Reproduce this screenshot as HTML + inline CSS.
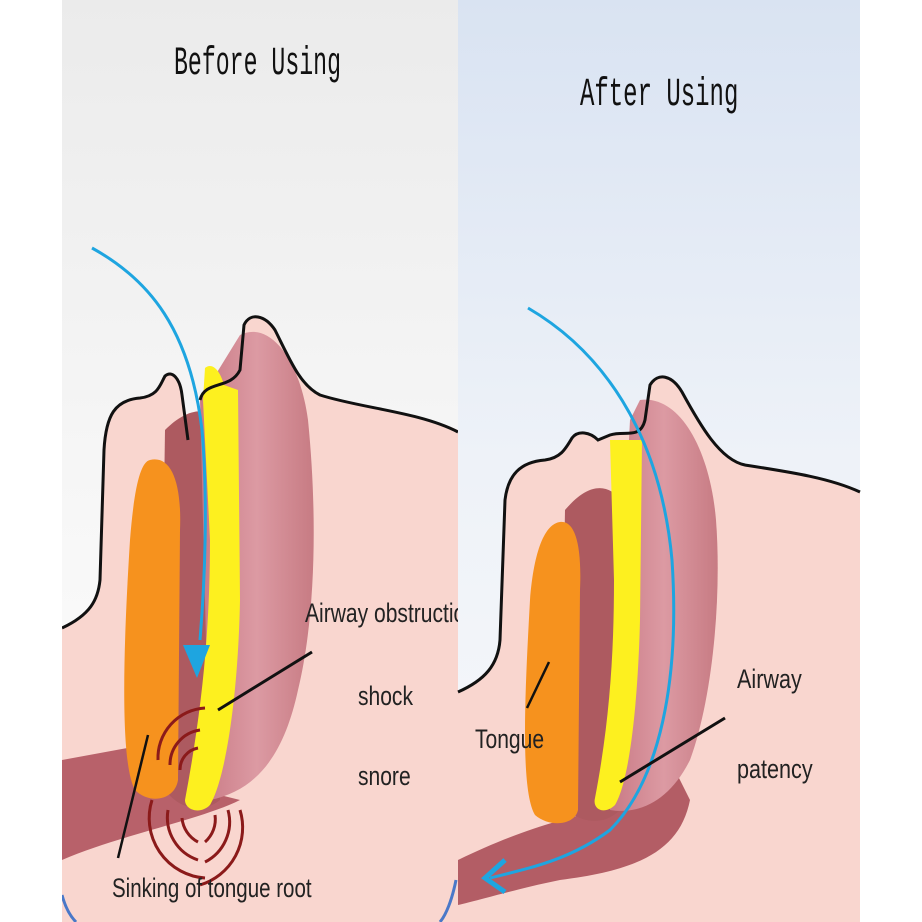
<!DOCTYPE html>
<html><head><style>
html,body{margin:0;padding:0;background:#fff;}
svg{display:block}
</style></head><body>
<svg width="922" height="922" viewBox="0 0 922 922" xmlns="http://www.w3.org/2000/svg" font-family="Liberation Sans,sans-serif">
<defs>
<linearGradient id="bgL" x1="0" y1="0" x2="0" y2="1"><stop offset="0" stop-color="#ebebeb"/><stop offset="0.5" stop-color="#f6f6f6"/><stop offset="1" stop-color="#fff"/></linearGradient>
<linearGradient id="bgR" x1="0" y1="0" x2="0" y2="1"><stop offset="0" stop-color="#d9e3f2"/><stop offset="0.5" stop-color="#eef2f8"/><stop offset="1" stop-color="#f8f8fb"/></linearGradient>
<linearGradient id="musc" x1="0" y1="0" x2="1" y2="0"><stop offset="0" stop-color="#c97a85"/><stop offset="0.5" stop-color="#dc9aa3"/><stop offset="1" stop-color="#c77b83"/></linearGradient>
<clipPath id="cl"><rect x="62" y="0" width="396" height="922"/></clipPath>
</defs>
<rect x="62" y="0" width="396" height="922" fill="url(#bgL)"/>
<rect x="458" y="0" width="402" height="922" fill="url(#bgR)"/>

<!-- LEFT PANEL -->
<g clip-path="url(#cl)">
<path d="M62,628 C90,615 98,600 100,580 L104,450 C106,415 115,400 140,398 C158,396 160,385 165,376 C172,370 180,378 182,395 L190,440 L205,460 L215,385 C225,370 240,385 243,360 L244,325 C250,312 265,315 275,330 C290,360 300,385 320,395 C360,408 420,412 458,430 L458,922 L62,922 Z" fill="#f9d6cf"/>
<path d="M62,760 L160,742 L200,790 L240,800 C200,820 120,835 62,860 Z" fill="#b8616a"/>
<path d="M165,430 C185,410 205,405 220,420 L220,800 C195,820 160,800 160,770 Z" fill="#ad5a60"/>
<path d="M240,335 C270,320 300,360 308,420 C318,520 315,620 298,690 C285,750 260,790 210,800 L200,400 Z" fill="url(#musc)"/>
<path d="M150,460 C170,455 182,480 180,530 L178,780 C175,800 150,805 135,790 C118,760 125,620 130,540 C134,490 140,462 150,460 Z" fill="#f6921e"/>
<path d="M205,368 C212,362 220,370 224,385 L238,390 L240,600 C238,700 225,780 210,805 C200,815 185,810 185,800 C200,720 210,640 210,540 L203,400 Z" fill="#fdf01f"/>
<path d="M62,628 C90,615 98,600 100,580 L104,450 C106,415 115,400 140,398 C158,396 160,385 165,376 C172,370 180,378 182,395 L188,440" fill="none" stroke="#111" stroke-width="3"/>
<path d="M200,400 C205,380 230,390 240,370 L244,325 C250,312 265,315 275,330 C290,360 300,385 320,395 C360,408 420,412 458,432" fill="none" stroke="#111" stroke-width="3"/>
<path d="M92,248 C150,280 190,330 202,430 C208,500 205,580 200,640" fill="none" stroke="#1ea5e0" stroke-width="3"/>
<path d="M183,645 L210,645 L197,678 Z" fill="#1ea5e0"/>
<g fill="none" stroke="#8b1a1a" stroke-width="3">
<path d="M158,760 A50,50 0 0 1 205,708"/>
<path d="M170,765 A35,35 0 0 1 200,730"/>
<path d="M180,770 A22,22 0 0 1 198,748"/>
<path d="M152,800 A60,60 0 0 0 205,878"/>
<path d="M168,810 A45,45 0 0 0 198,860"/>
<path d="M182,818 A30,30 0 0 0 198,842"/>
<path d="M240,810 A60,60 0 0 1 200,885"/>
<path d="M228,810 A45,45 0 0 1 205,862"/>
<path d="M215,815 A30,30 0 0 1 205,842"/>
</g>
<line x1="312" y1="652" x2="218" y2="710" stroke="#111" stroke-width="3"/>
<line x1="148" y1="735" x2="118" y2="858" stroke="#111" stroke-width="2.5"/>
<text x="305" y="622" font-size="27" fill="#222" transform="translate(305 0) scale(0.78 1) translate(-305 0)">Airway obstruction</text>
<text x="358" y="705" font-size="27" fill="#222" transform="translate(358 0) scale(0.78 1) translate(-358 0)">shock</text>
<text x="358" y="785" font-size="27" fill="#222" transform="translate(358 0) scale(0.78 1) translate(-358 0)">snore</text>
<text x="112" y="897" font-size="27" fill="#222" transform="translate(112 0) scale(0.76 1) translate(-112 0)">Sinking of tongue root</text>
<path d="M62,895 C66,910 72,918 76,922" fill="none" stroke="#4a78c8" stroke-width="3"/>
<path d="M456,880 C452,900 446,915 440,922" fill="none" stroke="#4a78c8" stroke-width="3"/>
<text x="174" y="74" style="font-family:'Liberation Mono',monospace" font-size="40" fill="#111" transform="translate(174 0) scale(0.58 1) translate(-174 0)">Before Using</text>
</g>

<!-- RIGHT PANEL -->
<g>
<path d="M458,692 C485,680 498,665 500,640 L505,500 C508,475 520,462 545,460 C560,458 565,450 572,438 C578,430 590,432 598,440 L610,435 C625,430 640,440 645,420 L650,385 C658,372 672,375 682,392 C700,425 720,460 745,465 C790,472 830,478 860,492 L860,922 L458,922 Z" fill="#f9d6cf"/>
<path d="M458,860 C520,830 560,820 600,810 C640,800 660,780 670,760 L690,800 C680,850 640,870 560,880 C520,888 480,900 458,905 Z" fill="#b35d65"/>
<path d="M565,510 C590,480 610,485 620,500 L620,810 C600,830 570,820 560,800 Z" fill="#ad5a60"/>
<path d="M640,400 C680,395 710,450 716,520 C722,600 712,700 690,760 C670,800 640,815 610,810 L630,420 Z" fill="url(#musc)"/>
<path d="M560,522 C575,520 582,545 580,590 L578,810 C575,825 550,828 535,815 C520,790 525,690 530,600 C534,550 545,524 560,522 Z" fill="#f6921e"/>
<path d="M610,440 L642,440 L640,620 C638,700 630,780 615,805 C605,815 592,810 595,798 C610,720 614,650 614,580 Z" fill="#fdf01f"/>
<path d="M458,692 C485,680 498,665 500,640 L505,500 C508,475 520,462 545,460 C560,458 565,450 572,438 C578,430 590,432 598,440 L610,435 C625,430 640,440 645,420 L650,385 C658,372 672,375 682,392 C700,425 720,460 745,465 C790,472 830,478 860,492" fill="none" stroke="#111" stroke-width="3"/>
<path d="M528,308 C600,350 660,430 672,560 C680,680 660,780 610,830 C570,860 530,868 490,878" fill="none" stroke="#1ea5e0" stroke-width="3"/>
<path d="M505,860 L485,878 L505,892" fill="none" stroke="#1ea5e0" stroke-width="5"/>
<line x1="725" y1="718" x2="620" y2="782" stroke="#111" stroke-width="3"/>
<line x1="549" y1="662" x2="527" y2="708" stroke="#111" stroke-width="2.5"/>
<text x="737" y="688" font-size="27" fill="#222" transform="translate(737 0) scale(0.8 1) translate(-737 0)">Airway</text>
<text x="737" y="778" font-size="27" fill="#222" transform="translate(737 0) scale(0.8 1) translate(-737 0)">patency</text>
<text x="475" y="748" font-size="27" fill="#222" transform="translate(475 0) scale(0.78 1) translate(-475 0)">Tongue</text>
<text x="580" y="105" style="font-family:'Liberation Mono',monospace" font-size="40" fill="#111" transform="translate(580 0) scale(0.6 1) translate(-580 0)">After Using</text>
</g>
</svg>
</body></html>
